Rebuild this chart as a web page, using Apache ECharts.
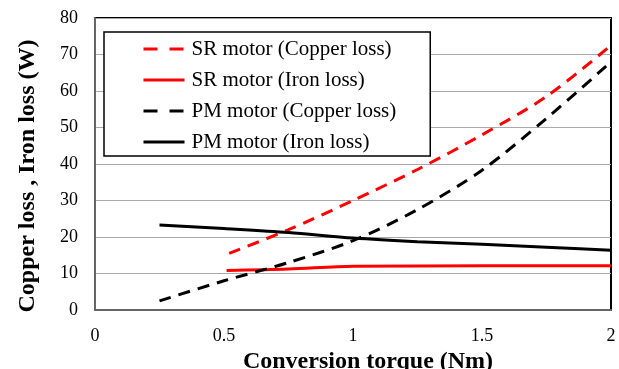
<!DOCTYPE html>
<html>
<head>
<meta charset="utf-8">
<script src="https://cdn.jsdelivr.net/npm/echarts@6/dist/echarts.min.js"></script>
<style>html,body{margin:0;padding:0;background:#fff}#c{width:619px;height:369px}</style>
</head>
<body>
<div id="c"></div>
<script>
var seriesNames = ['SR motor (Copper loss)', 'SR motor (Iron loss)', 'PM motor (Copper loss)', 'PM motor (Iron loss)'];
var srCopperX = [0.52, 0.75, 1.0, 1.25, 1.5, 1.75, 2.0];
var srCopperY = [15.5, 22.0, 30.0, 38.5, 48.0, 58.5, 72.5];
var srIronX = [0.51, 0.75, 1.0, 1.5, 2.0];
var srIronY = [10.8, 11.2, 12.0, 12.1, 12.1];
var pmCopperX = [0.25, 0.5, 0.75, 1.0, 1.25, 1.5, 1.75, 2.0];
var pmCopperY = [2.5, 8.0, 13.0, 19.0, 27.5, 38.3, 52.5, 68.0];
var pmIronX = [0.25, 0.5, 0.75, 1.0, 1.25, 1.5, 1.75, 2.0];
var pmIronY = [23.3, 22.3, 21.2, 19.7, 18.7, 18.0, 17.2, 16.4];
var xTicks = [0, 0.5, 1, 1.5, 2];
var yTicks = [0, 10, 20, 30, 40, 50, 60, 70, 80];

function pairs(xs, ys) { return xs.map(function (x, i) { return [x, ys[i]]; }); }
var FONT = '"Liberation Serif", "Times New Roman", serif';

var chart = echarts.init(document.getElementById('c'));
function mk(name, xs, ys, color, dashed) {
  return {
    name: name, type: 'line', data: pairs(xs, ys), smooth: 0.3,
    symbol: 'none', showSymbol: false,
    lineStyle: { color: color, width: 3, type: dashed ? [12, 8] : 'solid' },
    itemStyle: { color: color }
  };
}
var dashedNames = [seriesNames[0], seriesNames[2]];
chart.setOption({
  animation: false,
  grid: { left: 95, right: 8, top: 18, bottom: 59, show: true, borderColor: '#000', borderWidth: 2, backgroundColor: 'transparent', containLabel: false, outerBoundsMode: 'none' },
  legend: {
    orient: 'vertical', left: 104, top: 32,
    backgroundColor: '#fff', borderColor: '#000', borderWidth: 1.5,
    padding: [5, 34, 2, 38],
    itemWidth: 41, itemHeight: 14, itemGap: 7,
    itemStyle: { opacity: 0 },
    lineStyle: { width: 3 },
    textStyle: { fontFamily: FONT, fontSize: 21, color: '#000', lineHeight: 24, padding: [0, 0, 0, 2] },
    data: seriesNames.map(function (n) {
      return dashedNames.indexOf(n) >= 0 ? { name: n, lineStyle: { type: [14, 12] } } : { name: n };
    })
  },
  xAxis: {
    type: 'value', min: xTicks[0], max: xTicks[xTicks.length - 1], interval: 0.5,
    name: 'Conversion torque (Nm)', nameLocation: 'middle', nameGap: 34,
    nameTextStyle: { fontFamily: FONT, fontSize: 24, fontWeight: 'bold', color: '#000', padding: [0, 0, 0, 30] },
    axisLine: { lineStyle: { color: '#666', width: 2 } },
    axisTick: { show: false },
    splitLine: { show: false },
    axisLabel: { fontFamily: FONT, fontSize: 18, color: '#000', margin: 17 }
  },
  yAxis: {
    type: 'value', min: yTicks[0], max: yTicks[yTicks.length - 1], interval: 10,
    name: 'Copper loss , Iron loss (W)', nameLocation: 'middle', nameGap: 55,
    nameTextStyle: { fontFamily: FONT, fontSize: 24, fontWeight: 'bold', color: '#000', padding: [0, 24, 0, 0] },
    axisLine: { show: true, lineStyle: { color: '#666', width: 2 } },
    axisTick: { show: false },
    splitLine: { lineStyle: { color: '#aaa', width: 1 } },
    axisLabel: { fontFamily: FONT, fontSize: 18, color: '#000', margin: 17 }
  },
  series: [
    mk(seriesNames[0], srCopperX, srCopperY, '#ff0000', true),
    mk(seriesNames[1], srIronX, srIronY, '#ff0000', false),
    mk(seriesNames[2], pmCopperX, pmCopperY, '#000000', true),
    mk(seriesNames[3], pmIronX, pmIronY, '#000000', false)
  ]
});
</script>
</body>
</html>
